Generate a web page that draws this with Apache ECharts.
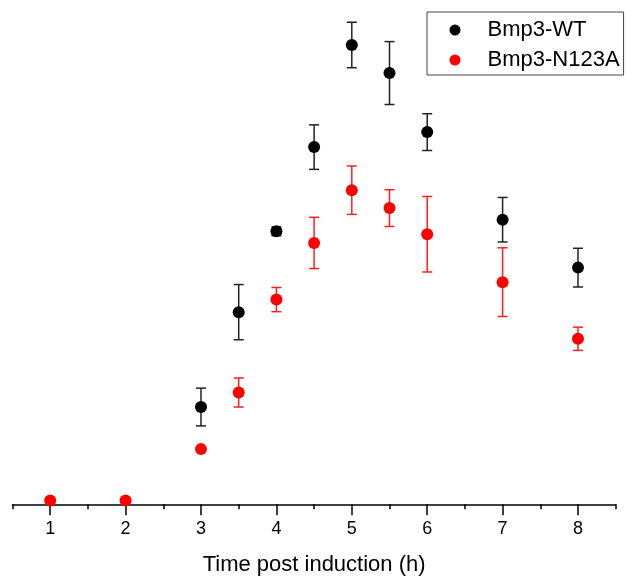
<!DOCTYPE html>
<html>
<head>
<meta charset="utf-8">
<script src="https://cdn.jsdelivr.net/npm/echarts@6/dist/echarts.min.js"></script>
<style>
    html, body { margin: 0; padding: 0; background: #fff; }
    #chart { width: 626px; height: 582px; }
</style>
</head>
<body>
<div id="chart"></div>
<script>
    // data (relative units, 0 = baseline)
    var wtX = [3, 3.5, 4, 4.5, 5, 5.5, 6, 7, 8];
    var wtMean = [20.1, 39.7, 56.4, 73.8, 94.9, 89.1, 76.9, 58.8, 48.9];
    var wtErr = [3.9, 5.7, 0.9, 4.6, 4.7, 6.5, 3.8, 4.6, 4.0];

    var mutX = [1, 2, 3, 3.5, 4, 4.5, 5, 5.5, 6, 7, 8];
    var mutMean = [0.8, 0.8, 11.4, 23.1, 42.3, 54.0, 64.9, 61.2, 55.8, 45.9, 34.2];
    var mutErr = [0, 0, 0, 3.0, 2.5, 5.3, 5.0, 3.8, 7.8, 7.1, 2.4];

    var majorTicks = [1, 2, 3, 4, 5, 6, 7, 8];
    var minorTicks = [0.5, 1.5, 2.5, 3.5, 4.5, 5.5, 6.5, 7.5, 8.5];

    var font = 'Liberation Sans, Arial, sans-serif';

    function points(xs, ys) {
        return xs.map(function (x, i) { return [x, ys[i]]; });
    }
    function bars(xs, ys, es) {
        var out = [];
        xs.forEach(function (x, i) {
            if (es[i] > 0) out.push([x, ys[i] - es[i], ys[i] + es[i]]);
        });
        return out;
    }

    // error bar with caps
    function errRender(color) {
        return function (params, api) {
            var x = api.value(0);
            var lo = api.coord([x, api.value(1)]);
            var hi = api.coord([x, api.value(2)]);
            var w = 5;
            var st = { stroke: color, lineWidth: 1.5 };
            return {
                type: 'group',
                children: [
                    { type: 'line', shape: { x1: lo[0], y1: lo[1], x2: hi[0], y2: hi[1] }, style: st },
                    { type: 'line', shape: { x1: lo[0] - w, y1: lo[1], x2: lo[0] + w, y2: lo[1] }, style: st },
                    { type: 'line', shape: { x1: hi[0] - w, y1: hi[1], x2: hi[0] + w, y2: hi[1] }, style: st }
                ]
            };
        };
    }

    var myChart = echarts.init(document.getElementById('chart'));

    var option = {
        animation: false,
        textStyle: { fontFamily: font },
        grid: { left: 12.5, right: 10.3, top: 20.3, bottom: 77.7, outerBoundsMode: 'none', containLabel: false },
        legend: {
            data: ['Bmp3-WT', 'Bmp3-N123A'],
            orient: 'vertical',
            left: 427,
            top: 12,
            padding: [7, 4, 4, 22.5],
            itemGap: 8,
            itemWidth: 11,
            itemHeight: 11,
            icon: 'circle',
            borderColor: '#444',
            borderWidth: 1,
            textStyle: { fontFamily: font, fontSize: 22, color: '#000', lineHeight: 20, padding: [0, 0, 0, 22] }
        },
        xAxis: [{
            type: 'value',
            min: 0.5,
            max: 8.5,
            name: 'Time post induction (h)',
            nameLocation: 'middle',
            nameGap: 50,
            nameTextStyle: { fontFamily: font, fontSize: 22, color: '#000' },
            axisLine: { lineStyle: { color: '#000', width: 1.5 } },
            axisTick: { customValues: majorTicks, length: 11, lineStyle: { color: '#000', width: 1.5 } },
            axisLabel: { customValues: majorTicks, margin: 16, fontSize: 18, color: '#000', fontFamily: font },
            splitLine: { show: false }
        }, {
            type: 'value',
            min: 0.5,
            max: 8.5,
            position: 'bottom',
            axisLine: { show: false },
            axisTick: { customValues: minorTicks, length: 5, lineStyle: { color: '#000', width: 1.5 } },
            axisLabel: { show: false },
            splitLine: { show: false }
        }],
        yAxis: {
            type: 'value',
            min: 0,
            max: 100,
            show: false
        },
        series: [{
            type: 'custom',
            name: 'wtErr',
            renderItem: errRender('#222'),
            data: bars(wtX, wtMean, wtErr),
            z: 1
        }, {
            type: 'custom',
            name: 'mutErr',
            renderItem: errRender('#ff2020'),
            data: bars(mutX, mutMean, mutErr),
            z: 1
        }, {
            type: 'scatter',
            name: 'Bmp3-WT',
            symbolSize: 12,
            itemStyle: { color: '#000', opacity: 1 },
            data: points(wtX, wtMean),
            z: 3
        }, {
            type: 'scatter',
            name: 'Bmp3-N123A',
            symbolSize: 12,
            itemStyle: { color: '#ff0000', opacity: 1 },
            data: points(mutX, mutMean),
            z: 3
        }]
    };

    myChart.setOption(option);
</script>
</body>
</html>
